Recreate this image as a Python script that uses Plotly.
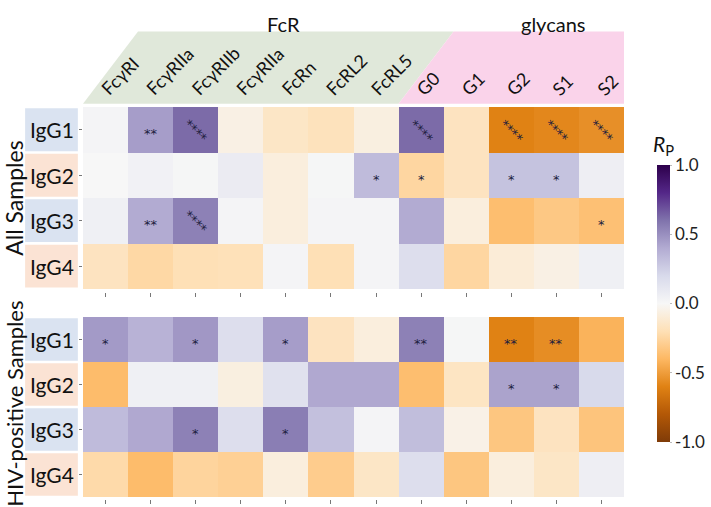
import plotly.graph_objects as go
from plotly.colors import diverging

# column and row labels
receptors = ["FcγRI", "FcγRIIa", "FcγRIIb", "FcγRIIa", "FcRn", "FcRL2", "FcRL5"]
glycans = ["G0", "G1", "G2", "S1", "S2"]
features = receptors + glycans
subclasses = ["IgG1", "IgG2", "IgG3", "IgG4"]

# Pearson R, all samples
all_r = [
    [0.02, 0.45, 0.62, -0.06, -0.15, -0.18, -0.07, 0.62, -0.17, -0.60, -0.58, -0.55],
    [0.00, 0.04, 0.01, 0.08, -0.08, 0.01, 0.33, -0.25, -0.17, 0.30, 0.30, 0.06],
    [0.05, 0.40, 0.55, 0.02, -0.08, 0.02, 0.02, 0.40, -0.08, -0.37, -0.32, -0.36],
    [-0.17, -0.24, -0.20, -0.19, 0.02, -0.20, 0.02, 0.17, -0.25, -0.10, -0.06, 0.05],
]
all_stars = [
    ["", "**", "****", "", "", "", "", "****", "", "****", "****", "****"],
    ["", "", "", "", "", "", "*", "*", "", "*", "*", ""],
    ["", "**", "****", "", "", "", "", "", "", "", "", "*"],
    ["", "", "", "", "", "", "", "", "", "", "", ""],
]

# Pearson R, HIV-positive samples
hiv_r = [
    [0.46, 0.37, 0.47, 0.17, 0.45, -0.17, -0.08, 0.55, 0.01, -0.60, -0.56, -0.42],
    [-0.38, 0.05, 0.05, -0.07, 0.15, 0.41, 0.41, -0.37, -0.16, 0.43, 0.43, 0.20],
    [0.33, 0.41, 0.55, 0.17, 0.56, 0.31, 0.02, 0.32, -0.05, -0.33, -0.17, -0.34],
    [-0.23, -0.38, -0.26, -0.28, -0.08, -0.30, -0.15, 0.17, -0.33, -0.08, -0.15, 0.06],
]
hiv_stars = [
    ["*", "", "*", "", "*", "", "", "**", "", "**", "**", ""],
    ["", "", "", "", "", "", "", "", "", "*", "*", ""],
    ["", "", "*", "", "*", "", "", "", "", "", "", ""],
    ["", "", "", "", "", "", "", "", "", "", "", ""],
]

FONT = "Lato"
cols = list(range(len(features)))

fig = go.Figure()
fig.add_trace(go.Heatmap(z=all_r, x=cols, y=subclasses, coloraxis="coloraxis",
                         xaxis="x", yaxis="y"))
fig.add_trace(go.Heatmap(z=hiv_r, x=cols, y=subclasses, coloraxis="coloraxis",
                         xaxis="x2", yaxis="y2"))

# star annotations
for stars, xa, ya in [(all_stars, "x", "y"), (hiv_stars, "x2", "y2")]:
    for i, row in enumerate(stars):
        for j, s in enumerate(row):
            if not s:
                continue
            diag = len(s) == 4
            fig.add_annotation(x=j, y=subclasses[i], xref=xa, yref=ya, text=s,
                               showarrow=False, textangle=45 if diag else 0,
                               xanchor="center", yanchor="middle",
                               yshift=-2 if diag else -4,
                               font=dict(size=13, color="#1c1c3c", family="DejaVu Sans"))

# row label boxes
box_colors = ["#dae3f1", "#fbe3d4", "#dae3f1", "#fbe3d4"]
for ya in ["y", "y2"]:
    for i, lab in enumerate(subclasses):
        fig.add_shape(type="rect", xref="paper", yref=ya, x0=-0.107, x1=-0.0095,
                      y0=i - 0.47, y1=i + 0.47, fillcolor=box_colors[i], line_width=0)
        fig.add_annotation(x=-0.058, y=lab, xref="paper", yref=ya, text=lab, showarrow=False,
                           xanchor="center", font=dict(size=21, color="#111", family=FONT))

# panel titles
fig.add_annotation(x=-0.128, y=0.5, xref="paper", yref="y domain", text="All Samples",
                   textangle=-90, showarrow=False, xanchor="center", yanchor="middle",
                   font=dict(size=23, color="#111", family=FONT))
fig.add_annotation(x=-0.128, y=0.5, xref="paper", yref="y2 domain", text="HIV-positive Samples",
                   textangle=-90, showarrow=False, xanchor="center", yanchor="middle",
                   yshift=3, font=dict(size=22, color="#111", family=FONT))

# header bands
fig.add_shape(type="path", xref="x", yref="paper",
              path="M -0.5 1.008 L 0.72 1.19 L 7.72 1.19 L 6.5 1.008 Z",
              fillcolor="#e0e8da", line_width=0)
fig.add_shape(type="path", xref="x", yref="paper",
              path="M 6.5 1.008 L 7.72 1.19 L 12.72 1.19 L 11.5 1.008 Z",
              fillcolor="#fad3ea", line_width=0)
fig.add_annotation(x=3.94, y=1.245, xref="x", yref="paper", text="FcR", showarrow=False,
                   xanchor="center", font=dict(size=20, color="#111", family=FONT))
fig.add_annotation(x=9.93, y=1.245, xref="x", yref="paper", text="glycans", showarrow=False,
                   xanchor="center", font=dict(size=20, color="#111", family=FONT))

# column labels
for j, lab in enumerate(features):
    fig.add_annotation(x=j, y=1.012, xref="x", yref="paper", text=lab,
                       showarrow=False, textangle=-45, xanchor="left", yanchor="bottom",
                       xshift=-12, font=dict(size=18, color="#111", family=FONT))

# colorbar title
fig.add_annotation(x=1.073, y=0.945, xref="paper", yref="paper", text="<i>R</i><sub>P</sub>",
                   showarrow=False, xanchor="center",
                   font=dict(size=21, color="#111", family=FONT))

xax = dict(tickmode="array", tickvals=cols, showticklabels=False, ticks="outside",
           ticklen=4, tickcolor="#777", tickwidth=1, showgrid=False, zeroline=False,
           showline=False, range=[-0.5, 11.5], anchor="free")
yax = dict(showticklabels=False, ticks="outside", ticklen=3, tickcolor="#777",
           showgrid=False, zeroline=False, showline=False, autorange="reversed")

fig.update_layout(
    width=711, height=507,
    margin=dict(l=83, r=87, t=107, b=3, autoexpand=False),
    plot_bgcolor="white", paper_bgcolor="white",
    font=dict(family=FONT, color="#111"),
    xaxis=dict(xax, position=0.534),
    xaxis2=dict(xax, position=0.0126),
    yaxis=dict(yax, domain=[0.5416, 1.0], anchor="x"),
    yaxis2=dict(yax, domain=[0.0176, 0.471], anchor="x2"),
    coloraxis=dict(
        colorscale=diverging.PuOr, cmin=-1, cmax=1,
        colorbar=dict(
            x=1.061, xanchor="left", xpad=0, y=0.505, yanchor="middle", ypad=0,
            len=277, lenmode="pixels", thickness=13, outlinewidth=0,
            tickvals=[-1, -0.5, 0, 0.5, 1], ticktext=["-1.0", "-0.5", "0.0", "0.5", "1.0"],
            ticks="outside", ticklen=2, tickcolor="#bbb",
            tickfont=dict(size=17, color="#222", family=FONT),
        ),
    ),
    showlegend=False,
)

# drop the page's default body margin so the figure sits at the window's corner
fig.write_html("out.html", config={"displayModeBar": False},
               post_script="document.body.style.margin='0';")
